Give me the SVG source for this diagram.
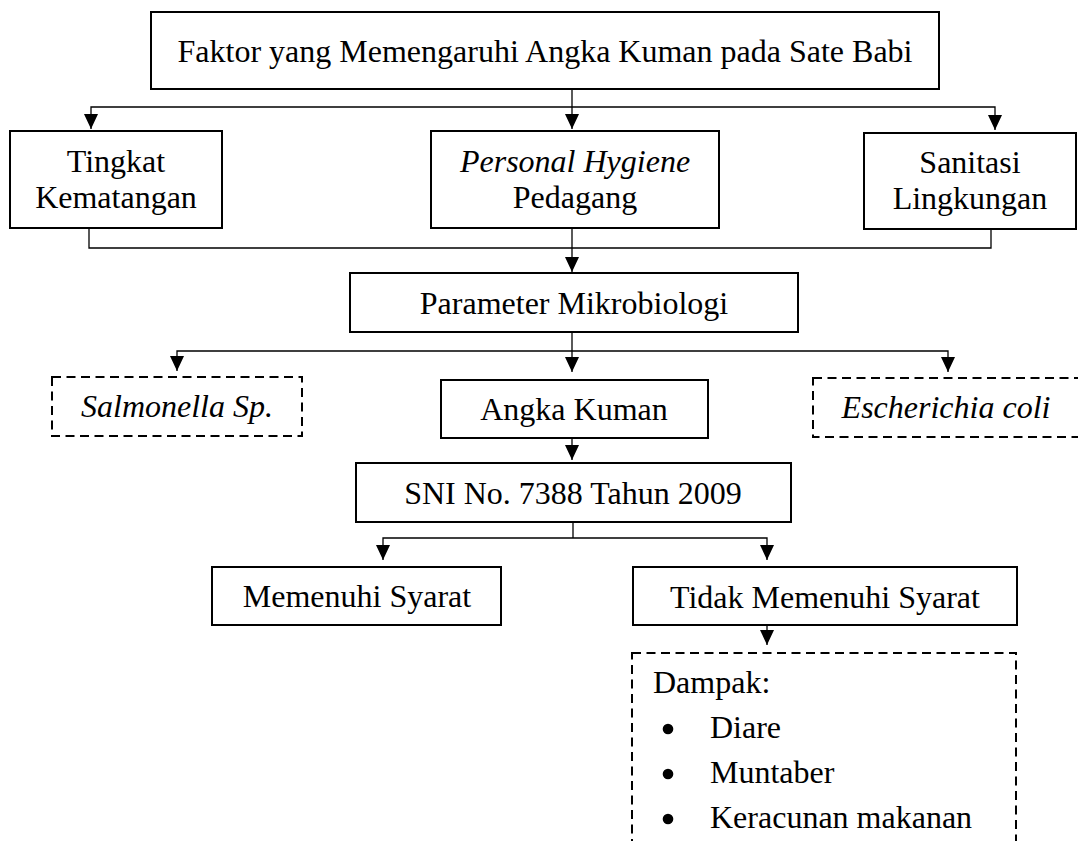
<svg xmlns="http://www.w3.org/2000/svg" width="1078" height="841" viewBox="0 0 1078 841">
<style>
.box{fill:#fff;stroke:#000;stroke-width:2}
.dbox{fill:none;stroke:#000;stroke-width:2;stroke-dasharray:9 5.5}
.t{font-family:"Liberation Serif","Times New Roman",serif;font-size:32px;fill:#000;text-anchor:middle}
.l{text-anchor:start}
.i{font-style:italic}
.c{fill:none;stroke:#000;stroke-width:1.3}
.a{marker-end:url(#ah)}
.b{fill:#000}
</style>
<defs>
<marker id="ah" markerUnits="userSpaceOnUse" markerWidth="15" markerHeight="14" refX="15" refY="7" orient="auto">
<path d="M0,0 L15,7 L0,14 z" fill="#000"/>
</marker>
</defs>
<rect width="1078" height="841" fill="#fff"/>
<g id="connectors">
<polyline class="c a" points="572,89 572,129"/>
<polyline class="c a" points="572,107 91,107 91,129"/>
<polyline class="c a" points="572,107 995,107 995,130"/>
<polyline class="c" points="89,228 89,248 991,248 991,229"/>
<polyline class="c a" points="572,228 572,272"/>
<polyline class="c a" points="572,332 572,372"/>
<polyline class="c a" points="572,351 177,351 177,371"/>
<polyline class="c a" points="572,351 948,351 948,372"/>
<polyline class="c a" points="572,438 572,460"/>
<polyline class="c" points="573,522 573,538"/>
<polyline class="c a" points="573,538 383,538 383,560"/>
<polyline class="c a" points="573,538 767,538 767,560"/>
<polyline class="c a" points="767,625 767,645"/>
</g>
<g id="n-faktor">
<rect class="box" x="151" y="12" width="788" height="77"/>
<text class="t" x="545" y="62">Faktor yang Memengaruhi Angka Kuman pada Sate Babi</text>
</g>
<g id="n-tingkat">
<rect class="box" x="10" y="131" width="212" height="97"/>
<text class="t" x="116" y="172">Tingkat</text>
<text class="t" x="116" y="208">Kematangan</text>
</g>
<g id="n-personal">
<rect class="box" x="431" y="131" width="288" height="97"/>
<text class="t i" x="575" y="172">Personal Hygiene</text>
<text class="t" x="575" y="208">Pedagang</text>
</g>
<g id="n-sanitasi">
<rect class="box" x="864" y="133" width="212" height="96"/>
<text class="t" x="970" y="173">Sanitasi</text>
<text class="t" x="970" y="209">Lingkungan</text>
</g>
<g id="n-parameter">
<rect class="box" x="350" y="273" width="448" height="59"/>
<text class="t" x="574" y="314">Parameter Mikrobiologi</text>
</g>
<g id="n-salmonella">
<rect class="dbox" x="52" y="377" width="250" height="59"/>
<text class="t i" x="177" y="417">Salmonella Sp.</text>
</g>
<g id="n-angka">
<rect class="box" x="441" y="380" width="267" height="58"/>
<text class="t" x="574" y="420">Angka Kuman</text>
</g>
<g id="n-ecoli">
<rect class="dbox" x="813" y="378" width="300" height="59"/>
<text class="t i" x="946" y="418">Escherichia coli</text>
</g>
<g id="n-sni">
<rect class="box" x="356" y="463" width="435" height="59"/>
<text class="t" x="573" y="504">SNI No. 7388 Tahun 2009</text>
</g>
<g id="n-memenuhi">
<rect class="box" x="212" y="567" width="289" height="58"/>
<text class="t" x="357" y="607">Memenuhi Syarat</text>
</g>
<g id="n-tidak">
<rect class="box" x="633" y="567" width="384" height="58"/>
<text class="t" x="825" y="608">Tidak Memenuhi Syarat</text>
</g>
<g id="n-dampak">
<rect class="dbox" x="632" y="653" width="384" height="250"/>
<text class="t l" x="653" y="693">Dampak:</text>
<circle class="b" cx="668" cy="729" r="5.3"/>
<text class="t l" x="710" y="738">Diare</text>
<circle class="b" cx="668" cy="774" r="5.3"/>
<text class="t l" x="710" y="783">Muntaber</text>
<circle class="b" cx="668" cy="819" r="5.3"/>
<text class="t l" x="710" y="828">Keracunan makanan</text>
</g>
</svg>
